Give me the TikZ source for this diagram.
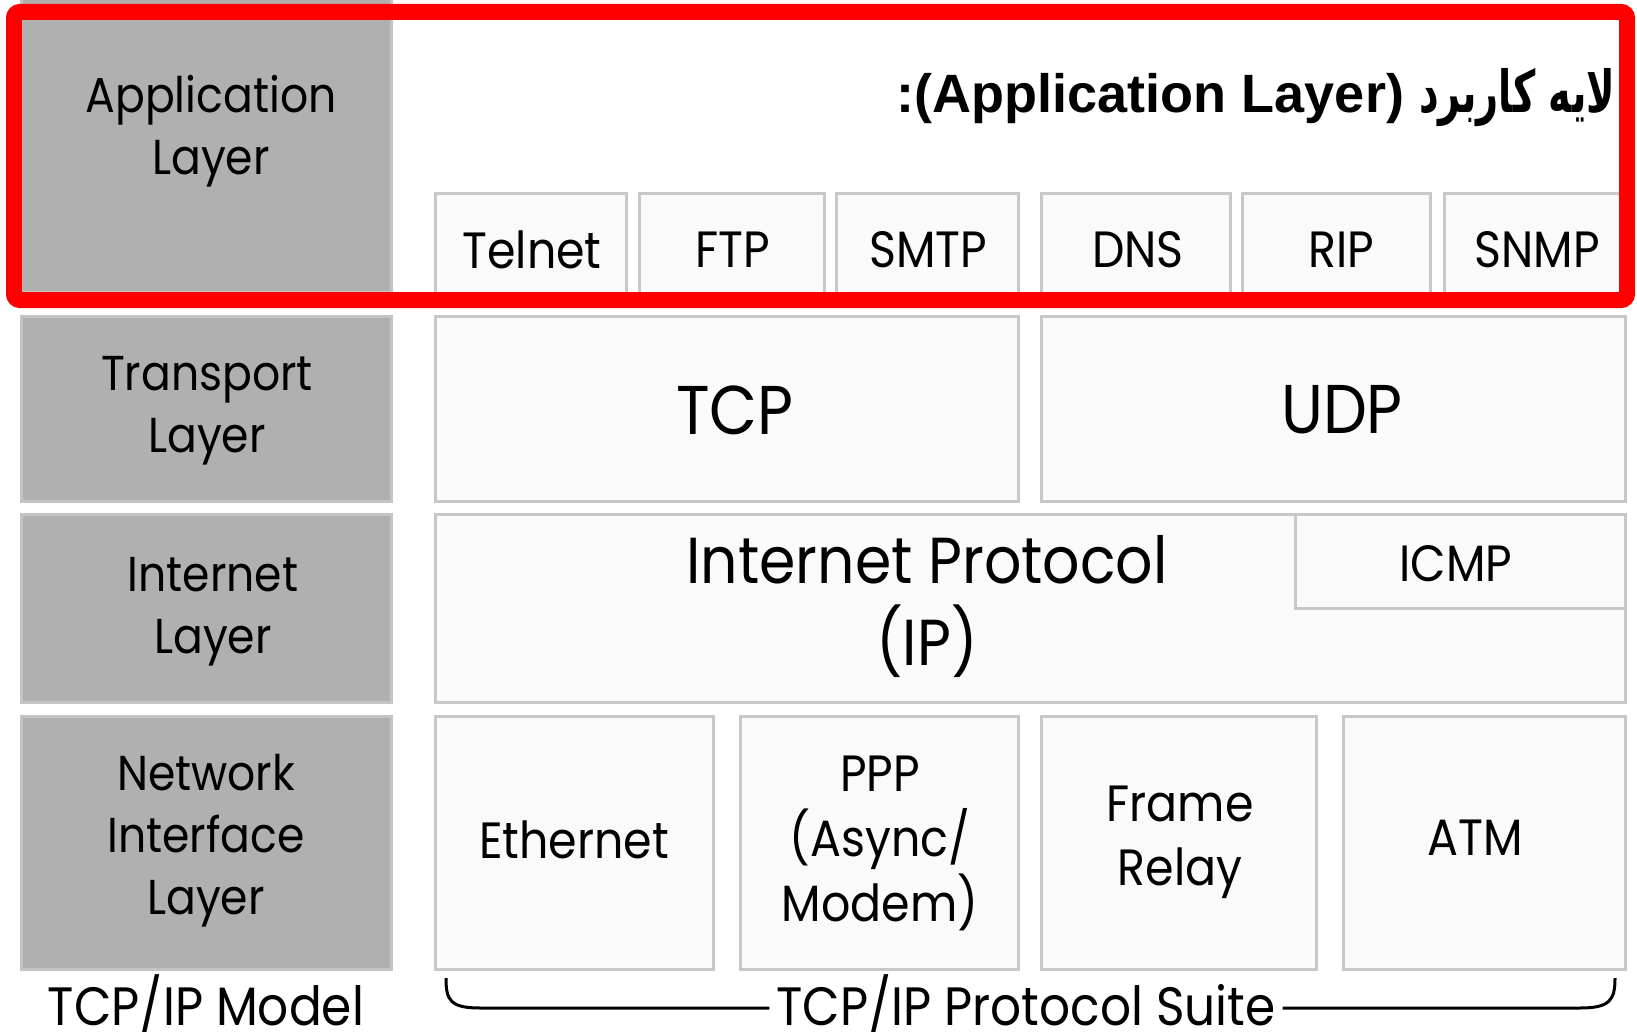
\documentclass[tikz,border=0pt]{standalone}
\usepackage{fontspec}
\setmainfont[FakeStretch=0.9]{Poppins}
\newfontfamily\titlefont{Liberation Sans}
\newfontfamily\arabicfont[Script=Arabic, FakeStretch=0.66]{DejaVu Sans}
\TeXXeTstate=1
\definecolor{layergray}{HTML}{B0B0B0}
\definecolor{layeredge}{HTML}{C4C4C4}
\definecolor{protofill}{HTML}{FAFAFA}
\definecolor{protoedge}{HTML}{C8C8C8}
\definecolor{framered}{HTML}{FF0000}

\begin{document}
\begin{tikzpicture}[x=0.5pt, y=-0.5pt,
  layerbox/.style={fill=layergray, draw=layeredge, line width=1.5pt},
  protobox/.style={fill=protofill, draw=protoedge, line width=1.5pt},
  layertext/.style={align=center, font=\fontsize{24.5}{31}\selectfont},
  prototext/.style={align=center, font=\fontsize{25.5}{32}\selectfont},
  bigtext/.style={align=center, font=\fontsize{32.5}{41}\selectfont}]

\useasboundingbox (0,0) rectangle (1637,1032);
\clip (0,0) rectangle (1637,1032);

% layer column
\draw[layerbox] (21,-5) rectangle (391,292);
\draw[layerbox] (21,316) rectangle (391,501);
\draw[layerbox] (21,514) rectangle (391,702);
\draw[layerbox] (21,716) rectangle (391,969);
\node[layertext] (applayer) at (211,131) {Application\\Layer};
\node[layertext] (translayer) at (207,411) {Transport\\Layer};
\node[layertext] (netlayer) at (213,612) {Internet\\Layer};
\node[layertext] (nifacelayer) at (206,841) {Network\\Interface\\Layer};

% application protocols
\draw[protobox] (435,194) rectangle (626,300);
\draw[protobox] (639,194) rectangle (824,300);
\draw[protobox] (836,194) rectangle (1018,300);
\draw[protobox] (1041,194) rectangle (1230,300);
\draw[protobox] (1242,194) rectangle (1430,300);
\draw[protobox] (1444,194) rectangle (1623,300);
\node[prototext] (telnet) at (532,250) {Telnet};
\node[prototext] (ftp) at (733,250) {FTP};
\node[prototext] (smtp) at (928,250) {SMTP};
\node[prototext] (dns) at (1138,250) {DNS};
\node[prototext] (rip) at (1341,250) {RIP};
\node[prototext] (snmp) at (1537,250) {SNMP};

% transport protocols
\draw[protobox] (435,316) rectangle (1018,501);
\draw[protobox] (1041,316) rectangle (1625,501);
\node[font=\fontsize{34.5}{42}\selectfont] (tcp) at (735,410) {TCP};
\node[font=\fontsize{34.5}{42}\selectfont] (udp) at (1342,410) {UDP};

% internet protocols
\draw[protobox] (435,514) rectangle (1625,702);
\draw[protobox] (1295,514) rectangle (1625,608);
\node[bigtext] (ip) at (927,606) {Internet Protocol\\(IP)};
\node[prototext] (icmp) at (1456,564) {ICMP};

% network interface protocols
\draw[protobox] (435,716) rectangle (713,969);
\draw[protobox] (740,716) rectangle (1018,969);
\draw[protobox] (1041,716) rectangle (1316,969);
\draw[protobox] (1343,716) rectangle (1625,969);
\node[prototext] (ethernet) at (574,840) {Ethernet};
\node[prototext, font=\fontsize{25.5}{32.5}\selectfont] (ppp) at (880,843) {PPP\\(Async/\\Modem)};
\node[prototext] (framerelay) at (1180,842) {Frame\\Relay};
\node[prototext] (atm) at (1475,838) {ATM};

% captions
\node[anchor=base, font=\fontsize{27}{32}\selectfont] (model) at (206,1025) {TCP/IP Model};
\node[anchor=base, font=\fontsize{27}{32}\selectfont] (suite) at (1026,1025) {TCP/IP Protocol Suite};
\coordinate (braceL) at (446,978);
\coordinate (braceR) at (1615,978);
\draw[line width=1.5pt] (braceL) .. controls (446,1000) and (450,1008) .. (480,1008) -- (suite.west |- 0,1008);
\draw[line width=1.5pt] (suite.east |- 0,1008) -- (1580,1008) .. controls (1610,1008) and (1615,1000) .. (braceR);

% highlight frame
\draw[framered, line width=8pt, rounded corners=3pt] (14,12) rectangle (1627,300);
\node[anchor=base east, font=\titlefont\bfseries\fontsize{27}{34}\selectfont] (title) at (1622,113)
  {:(Application Layer) {\arabicfont\bfseries\fontsize{29}{34}\selectfont\beginR لایه کاربرد\endR}};
\end{tikzpicture}
\end{document}
